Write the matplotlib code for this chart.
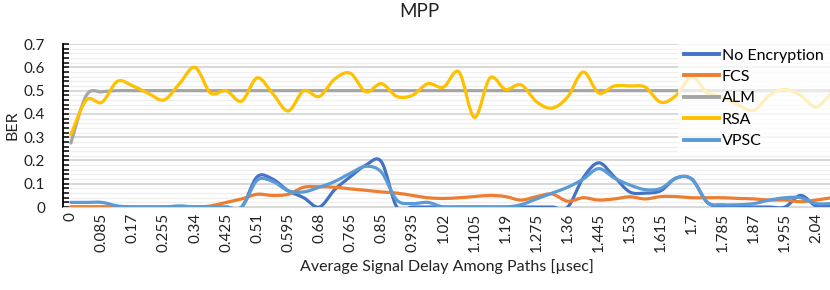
import numpy as np
import matplotlib
matplotlib.use("Agg")
from matplotlib import pyplot as plt
from matplotlib.path import Path
from matplotlib.patches import PathPatch

plt.rcParams['font.family'] = ['Lato', 'DejaVu Sans']

# categories: average signal delay [usec], step 0.0425
delay = [round(i * 0.0425, 4) for i in range(50)]
tick_vals = [round(i * 0.085, 3) for i in range(25)]
tick_labels = ["0", "0.085", "0.17", "0.255", "0.34", "0.425", "0.51", "0.595", "0.68",
               "0.765", "0.85", "0.935", "1.02", "1.105", "1.19", "1.275", "1.36", "1.445",
               "1.53", "1.615", "1.7", "1.785", "1.87", "1.955", "2.04"]

no_enc = [0, 0, 0, 0, 0, 0, 0, 0, 0, 0,
          0, 0, 0.13, 0.12, 0.07, 0.04, 0.0, 0.075, 0.13, 0.18,
          0.195, 0.0, 0, 0, 0, 0, 0, 0, 0, 0,
          0, 0, 0.0, 0.125, 0.19, 0.13, 0.065, 0.06, 0.07, 0.125,
          0.12, 0.02, 0, 0, 0, 0, 0.0, 0.05, 0.005, 0.005]
fcs = [0, 0, 0, 0, 0, 0, 0, 0, 0, 0.005,
       0.02, 0.035, 0.055, 0.05, 0.055, 0.085, 0.087, 0.085, 0.078, 0.072,
       0.065, 0.06, 0.05, 0.04, 0.037, 0.04, 0.045, 0.05, 0.045, 0.03,
       0.045, 0.056, 0.025, 0.04, 0.03, 0.035, 0.044, 0.035, 0.045, 0.045,
       0.04, 0.04, 0.04, 0.037, 0.035, 0.03, 0.03, 0.023, 0.03, 0.04]
alm = [0.275, 0.48, 0.495] + [0.5] * 47
rsa = [0.31, 0.46, 0.45, 0.54, 0.52, 0.488, 0.46, 0.53, 0.60, 0.49,
       0.50, 0.455, 0.555, 0.488, 0.413, 0.50, 0.475, 0.55, 0.575, 0.495,
       0.53, 0.475, 0.48, 0.53, 0.515, 0.58, 0.385, 0.555, 0.505, 0.525,
       0.452, 0.425, 0.473, 0.58, 0.49, 0.52, 0.52, 0.515, 0.45, 0.48,
       0.56, 0.49, 0.473, 0.438, 0.415, 0.48, 0.505, 0.48, 0.43, 0.49]
vpsc = [0.02, 0.02, 0.02, 0.005, 0, 0, 0, 0.005, 0, 0,
        0, 0, 0.115, 0.11, 0.07, 0.065, 0.085, 0.11, 0.145, 0.175,
        0.15, 0.03, 0.015, 0.02, 0.0, 0, 0, 0, 0, 0.01,
        0.035, 0.06, 0.085, 0.12, 0.165, 0.125, 0.095, 0.075, 0.08, 0.125,
        0.12, 0.02, 0.01, 0.01, 0.015, 0.03, 0.04, 0.04, 0.015, 0.015]

series = [("No Encryption", no_enc, "#4472C4"),
          ("FCS", fcs, "#ED7D31"),
          ("ALM", alm, "#A5A5A5"),
          ("RSA", rsa, "#FFC000"),
          ("VPSC", vpsc, "#5B9BD5")]


def smooth_path(x, y):
    # excel-like smoothed line: cubic bezier segments (catmull-rom control points)
    p = np.column_stack([x, y]).astype(float)
    n = len(p)
    verts = [p[0]]
    codes = [Path.MOVETO]
    for i in range(n - 1):
        p0 = p[i - 1] if i > 0 else p[i]
        p3 = p[i + 2] if i + 2 < n else p[i + 1]
        c1 = p[i] + (p[i + 1] - p0) / 6.0
        c2 = p[i + 1] - (p3 - p[i]) / 6.0
        verts += [c1, c2, p[i + 1]]
        codes += [Path.CURVE4] * 3
    return Path(verts, codes)


fig = plt.figure(figsize=(8.3, 2.9), dpi=100)
ax = fig.add_axes([0.076, 0.286, 0.924, 0.562])

for name, vals, col in series:
    ax.add_patch(PathPatch(smooth_path(delay, vals), fill=False, edgecolor=col,
                           lw=2.3, capstyle='round', joinstyle='round', zorder=3))
    ax.plot([], [], color=col, lw=2.8, label=name)

ax.set_xlim(-0.5 * 0.0425, 48.9 * 0.0425)
ax.set_ylim(0, 0.7)
ax.set_yticks(np.arange(0, 0.71, 0.1))
ax.set_yticklabels(["0", "0.1", "0.2", "0.3", "0.4", "0.5", "0.6", "0.7"])
ax.set_yticks(np.arange(0, 0.701, 0.02), minor=True)
ax.set_xticks(tick_vals)
ax.set_xticklabels(tick_labels, rotation=90)

ax.grid(True, which='major', axis='y', color='#D9D9D9', lw=1.5, zorder=0)
ax.grid(True, which='minor', axis='y', color='#EFEFEF', lw=0.9, zorder=0)
ax.set_axisbelow(True)

for s in ['top', 'right']:
    ax.spines[s].set_visible(False)
ax.spines['bottom'].set_color('#D9D9D9')
ax.spines['left'].set_color('black')
ax.spines['left'].set_linewidth(1.3)

ax.tick_params(axis='y', which='both', direction='in', length=4, width=1.1,
               colors='black', labelsize=11, labelcolor='#222222', pad=13)
ax.tick_params(axis='x', length=0, labelsize=11, labelcolor='#222222', pad=4)

ax.set_xlabel("Average Signal Delay Among Paths [µsec]", fontsize=11.5, color='#222222', labelpad=5)
ax.set_ylabel("BER", fontsize=11.5, color='#222222', labelpad=3)
fig.suptitle("MPP", x=0.505, y=0.99, fontsize=13.5, color='#222222')

leg = ax.legend(loc='upper right', bbox_to_anchor=(1.0, 0.855), bbox_transform=fig.transFigure,
                fontsize=11.5, frameon=True, fancybox=False, borderaxespad=0,
                handlelength=2.2, handletextpad=0.15, labelspacing=0.45, borderpad=0.4)
leg.get_frame().set_facecolor('white')
leg.get_frame().set_alpha(0.75)
leg.get_frame().set_edgecolor('none')
leg.set_zorder(5)

fig.savefig("out.png", dpi=100)
